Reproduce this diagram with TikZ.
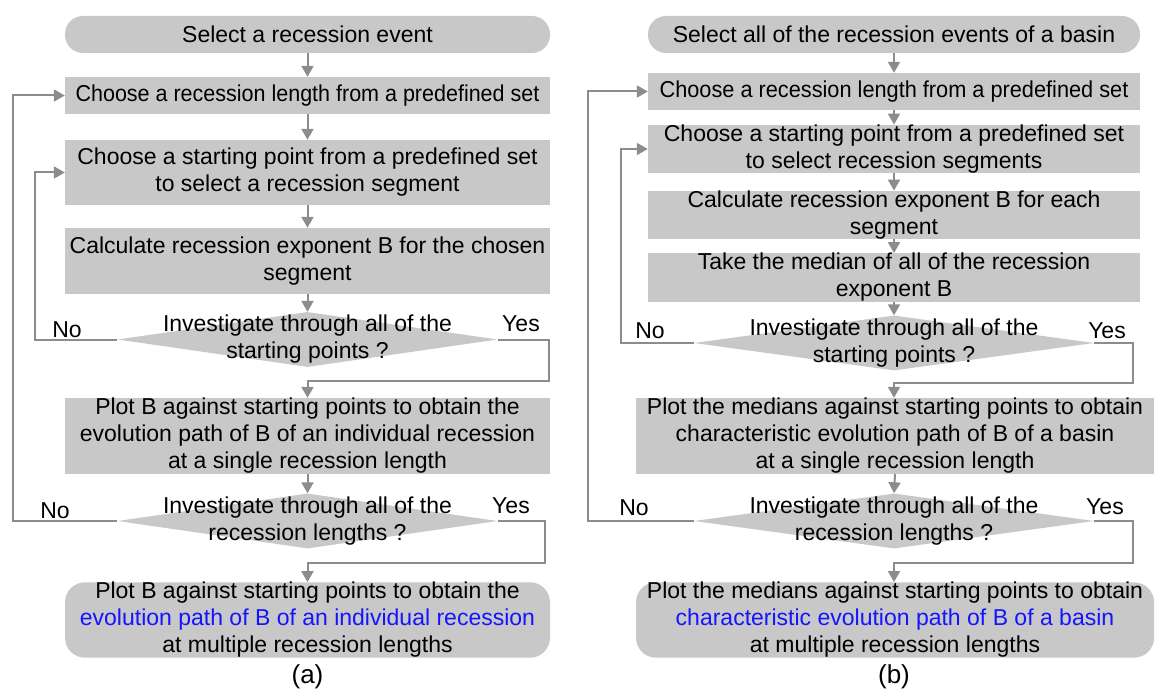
\documentclass[tikz,border=0pt]{standalone}
\usepackage{fontspec}
\setmainfont{Liberation Sans}
\usetikzlibrary{arrows.meta,shapes.geometric}
\definecolor{boxgray}{RGB}{200,200,200}
\definecolor{linegray}{RGB}{140,140,140}
\definecolor{hlblue}{RGB}{20,20,255}
\begin{document}
\begin{tikzpicture}[x=1pt,y=-1pt,
  font=\fontsize{23}{27}\selectfont,
  box/.style={fill=boxgray, draw=none, align=center, inner sep=0pt, minimum height=#1},
  lbox/.style={box=#1, minimum width=485pt},
  rbox/.style={box=#1, minimum width=492pt},
  wbox/.style={box=#1, minimum width=518pt},
  dia/.style={diamond, fill=boxgray, draw=none, inner sep=0pt, minimum height=55pt, minimum width=#1},
  lbl/.style={inner sep=0pt, align=center},
  captxt/.style={inner sep=0pt, font=\fontsize{26}{30}\selectfont},
  arr/.style={draw=linegray, line width=2pt, -{Triangle[length=11pt,width=12pt]}},
]
\useasboundingbox (0,0) rectangle (1160,698);

% ---------- (a) ----------
\node[lbox=37pt, rounded corners=18pt] (L0) at (307.5,34.5) {Select a recession event};
\node[lbox=37pt] (L1) at (307.5,95.5) {\scalebox{0.935}[1]{Choose a recession length from a predefined set}};
\node[lbox=65pt] (L2) at (307.5,172.5) {Choose a starting point from a predefined set\\to select a recession segment};
\node[lbox=66pt] (L3) at (307.5,261) {Calculate recession exponent B for the chosen\\segment};
\node[dia=380pt] (LD1) at (307.5,339.5) {};
\node[lbl] (LD1t) at (307.5,339.5) {Investigate through all of the\\starting points ?};
\node[lbox=76pt] (L4) at (307.5,436) {Plot B against starting points to obtain the\\evolution path of B of an individual recession\\at a single recession length};
\node[dia=380pt] (LD2) at (307.5,521) {};
\node[lbl] (LD2t) at (307.5,521) {Investigate through all of the\\recession lengths ?};
\node[lbox=74pt, rounded corners=20pt] (L5) at (307.5,620) {Plot B against starting points to obtain the\\\textcolor{hlblue}{evolution path of B of an individual recession}\\at multiple recession lengths};
\node[captxt] (La) at (307.5,677) {(a)};

\node[lbl] (LN1) at (67,330) {No};
\node[lbl] (LY1) at (521,324) {Yes};
\node[lbl] (LN2) at (55,511) {No};
\node[lbl] (LY2) at (511,506) {Yes};

\coordinate (cLN1) at (35,339.5);
\coordinate (cLY1) at (549,381);
\coordinate (cLN2) at (12.5,521);
\coordinate (cLY2) at (545,563);

\draw[arr] (L0) -- (L1);
\draw[arr] (L1) -- (L2);
\draw[arr] (L2) -- (L3);
\draw[arr] (L3) -- (LD1.north);
\draw[arr] (LD1.west) -- (cLN1) |- (L2.west);
\draw[arr] (LD1.east) -| (cLY1) -- (cLY1 -| L4.north) -- (L4.north);
\draw[arr] (L4) -- (LD2.north);
\draw[arr] (LD2.west) -- (cLN2) |- (L1.west);
\draw[arr] (LD2.east) -| (cLY2) -- (cLY2 -| L5.north) -- (L5.north);

% ---------- (b) ----------
\node[rbox=37pt, rounded corners=18pt] (R0) at (894,34.5) {Select all of the recession events of a basin};
\node[rbox=37pt] (R1) at (894,91.5) {\scalebox{0.945}[1]{Choose a recession length from a predefined set}};
\node[rbox=47pt] (R2) at (894,149) {Choose a starting point from a predefined set\\to select recession segments};
\node[rbox=46pt] (R3) at (894,215) {Calculate recession exponent B for each\\segment};
\node[rbox=47pt] (R4) at (894,277.5) {Take the median of all of the recession\\exponent B};
\node[dia=400pt] (RD1) at (894,343) {};
\node[lbl] (RD1t) at (894,343) {Investigate through all of the\\starting points ?};
\node[wbox=76pt] (R5) at (895,436) {Plot the medians against starting points to obtain\\characteristic evolution path of B of a basin\\at a single recession length};
\node[dia=400pt] (RD2) at (894,521) {};
\node[lbl] (RD2t) at (894,521) {Investigate through all of the\\recession lengths ?};
\node[wbox=74pt, rounded corners=20pt] (R6) at (895,620) {Plot the medians against starting points to obtain\\\textcolor{hlblue}{characteristic evolution path of B of a basin}\\at multiple recession lengths};
\node[captxt] (Rb) at (894,677) {(b)};

\node[lbl] (RN1) at (650,331) {No};
\node[lbl] (RY1) at (1107,331) {Yes};
\node[lbl] (RN2) at (634,508) {No};
\node[lbl] (RY2) at (1105,507) {Yes};

\coordinate (cRN1) at (621,343);
\coordinate (cRY1) at (1133,383);
\coordinate (cRN2) at (588,521);
\coordinate (cRY2) at (1133,563);

\draw[arr] (R0) -- (R1);
\draw[arr] (R1) -- (R2);
\draw[arr] (R2) -- (R3);
\draw[arr] (R3) -- (R4);
\draw[arr] (R4) -- (RD1.north);
\draw[arr] (RD1.west) -- (cRN1) |- (R2.west);
\draw[arr] (RD1.east) -| (cRY1) -- (cRY1 -| RD1.south) -- (RD1.south |- R5.north);
\draw[arr] (R5.north |- 0,474) -- (RD2.north);
\draw[arr] (RD2.west) -- (cRN2) |- (R1.west);
\draw[arr] (RD2.east) -| (cRY2) -- (cRY2 -| RD2.south) -- (RD2.south |- R6.north);
\end{tikzpicture}
\end{document}
